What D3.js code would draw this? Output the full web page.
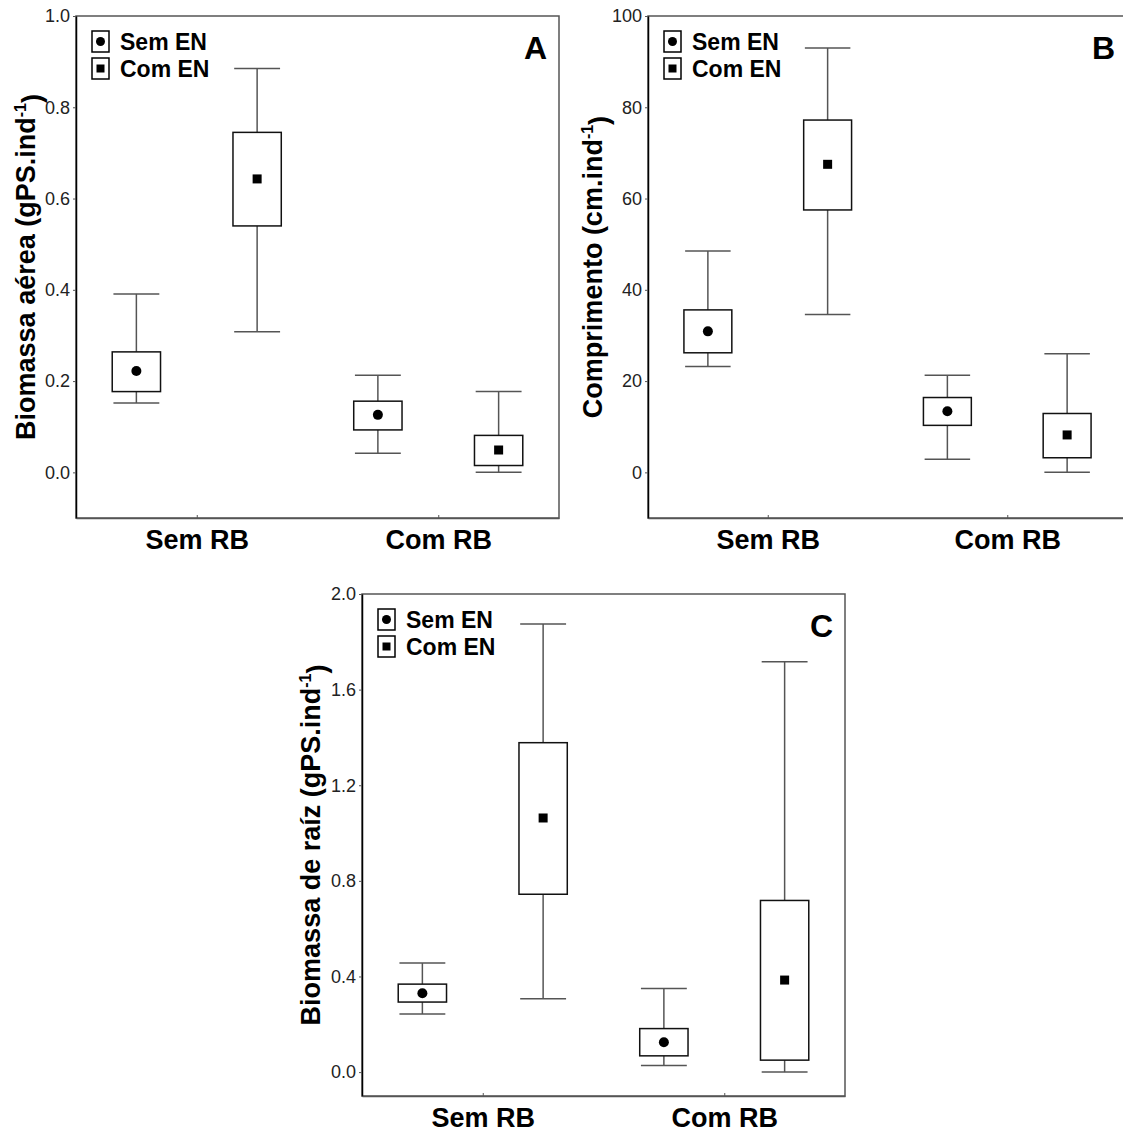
<!DOCTYPE html>
<html>
<head>
<meta charset="utf-8">
<script src="https://cdn.jsdelivr.net/npm/d3@7"></script>
<style>
  body { margin: 0; background: #fff; }
  text { font-family: 'Liberation Sans', Arial, sans-serif; }
</style>
</head>
<body>
<div id="chart"></div>
<script>
// Groups and series
const categories = ['Sem RB', 'Com RB'];
const series = ['Sem EN', 'Com EN'];

// Values, order: SemRB/SemEN, SemRB/ComEN, ComRB/SemEN, ComRB/ComEN
// Panel A - Biomassa aérea
const aWhiskerLow  = [0.152, 0.308, 0.042, 0.000];
const aBoxLow      = [0.177, 0.540, 0.093, 0.015];
const aMean        = [0.222, 0.643, 0.126, 0.049];
const aBoxHigh     = [0.264, 0.745, 0.156, 0.081];
const aWhiskerHigh = [0.391, 0.885, 0.213, 0.177];
const aTicks = [0.0, 0.2, 0.4, 0.6, 0.8, 1.0];

// Panel B - Comprimento
const bWhiskerLow  = [23.2, 34.6, 2.9, 0.0];
const bBoxLow      = [26.2, 57.5, 10.3, 3.2];
const bMean        = [30.9, 67.5, 13.4, 8.2];
const bBoxHigh     = [35.6, 77.2, 16.4, 12.9];
const bWhiskerHigh = [48.5, 93.0, 21.3, 26.0];
const bTicks = [0, 20, 40, 60, 80, 100];

// Panel C - Biomassa de raíz
const cWhiskerLow  = [0.243, 0.307, 0.028, 0.000];
const cBoxLow      = [0.293, 0.744, 0.068, 0.050];
const cMean        = [0.330, 1.063, 0.125, 0.385];
const cBoxHigh     = [0.368, 1.378, 0.182, 0.718];
const cWhiskerHigh = [0.456, 1.875, 0.350, 1.717];
const cTicks = [0.0, 0.4, 0.8, 1.2, 1.6, 2.0];

const svg = d3.select('#chart')
  .append('svg')
  .attr('width', 1123)
  .attr('height', 1133);

function drawPanel(p) {
  let g = svg.append('g').attr('transform', `translate(${p.left},${p.top})`);
  let w = p.width, h = p.height;

  let y = d3.scaleLinear().domain(p.domain).range([h, 0]);
  let x = d3.scalePoint().domain(categories).range([0, w]).padding(0.5);
  let xs = d3.scaleBand().domain(series).range([-w / 4, w / 4]);

  // frame
  g.append('rect')
    .attr('width', w).attr('height', h)
    .attr('fill', 'none')
    .attr('stroke', '#555')
    .attr('stroke-width', 1.5);

  // y axis
  let yAxis = g.append('g')
    .call(d3.axisLeft(y).tickValues(p.ticks).tickSize(3).tickSizeOuter(0).tickPadding(3).tickFormat(p.format));
  yAxis.select('.domain').attr('stroke', '#000').attr('stroke-width', 1.5);
  yAxis.selectAll('.tick line').attr('stroke', '#555');
  yAxis.selectAll('text').style('font-size', '18px').attr('fill', '#222');

  // x axis
  let xAxis = g.append('g')
    .attr('transform', `translate(0,${h})`)
    .call(d3.axisBottom(x).tickSize(-3).tickSizeOuter(0).tickPadding(12));
  xAxis.select('.domain').attr('stroke', '#555').attr('stroke-width', 1.5);
  xAxis.selectAll('.tick line').attr('stroke', '#555');
  xAxis.selectAll('text')
    .style('font-size', '27px')
    .style('font-weight', 'bold')
    .attr('fill', '#000');

  // rows
  let rows = [];
  categories.forEach(function(c, i) {
    series.forEach(function(s, j) {
      let k = i * 2 + j;
      rows.push({
        cat: c, ser: s, j: j,
        wl: p.wl[k], bl: p.bl[k], m: p.mean[k], bh: p.bh[k], wh: p.wh[k]
      });
    });
  });

  let boxW = xs.bandwidth() * 0.4;
  let capW = xs.bandwidth() * 0.19;
  let cx = d => x(d.cat) + xs(d.ser) + xs.bandwidth() / 2;

  let item = g.selectAll('.item').data(rows).enter().append('g');

  // whiskers
  item.append('line')
    .attr('x1', cx).attr('x2', cx)
    .attr('y1', d => y(d.bh)).attr('y2', d => y(d.wh))
    .attr('stroke', '#555').attr('stroke-width', 1.5);
  item.append('line')
    .attr('x1', cx).attr('x2', cx)
    .attr('y1', d => y(d.bl)).attr('y2', d => y(d.wl))
    .attr('stroke', '#555').attr('stroke-width', 1.5);
  item.append('line')
    .attr('x1', d => cx(d) - capW).attr('x2', d => cx(d) + capW)
    .attr('y1', d => y(d.wh)).attr('y2', d => y(d.wh))
    .attr('stroke', '#555').attr('stroke-width', 1.5);
  item.append('line')
    .attr('x1', d => cx(d) - capW).attr('x2', d => cx(d) + capW)
    .attr('y1', d => y(d.wl)).attr('y2', d => y(d.wl))
    .attr('stroke', '#555').attr('stroke-width', 1.5);

  // boxes
  item.append('rect')
    .attr('x', d => cx(d) - boxW / 2)
    .attr('y', d => y(d.bh))
    .attr('width', boxW)
    .attr('height', d => y(d.bl) - y(d.bh))
    .attr('fill', '#fff')
    .attr('stroke', '#111')
    .attr('stroke-width', 1.5);

  // mean markers
  item.filter(d => d.j === 0).append('circle')
    .attr('cx', cx).attr('cy', d => y(d.m)).attr('r', 5)
    .attr('fill', '#000');
  item.filter(d => d.j === 1).append('rect')
    .attr('x', d => cx(d) - 4.5).attr('y', d => y(d.m) - 4.5)
    .attr('width', 9).attr('height', 9)
    .attr('fill', '#000');

  // legend
  let leg = g.append('g').attr('transform', 'translate(16,15)');
  series.forEach(function(s, j) {
    let r = leg.append('g').attr('transform', `translate(0,${j * 27})`);
    r.append('rect')
      .attr('width', 17).attr('height', 21)
      .attr('fill', '#fff').attr('stroke', '#000').attr('stroke-width', 1.5);
    if (j === 0) {
      r.append('circle').attr('cx', 8.5).attr('cy', 10.5).attr('r', 4.5).attr('fill', '#000');
    } else {
      r.append('rect').attr('x', 4.5).attr('y', 6.5).attr('width', 8).attr('height', 8).attr('fill', '#000');
    }
    r.append('text')
      .attr('x', 28).attr('y', 19)
      .style('font-size', '23px').style('font-weight', 'bold')
      .text(s);
  });

  // panel letter
  g.append('text')
    .attr('x', w - 12).attr('y', 43)
    .attr('text-anchor', 'end')
    .style('font-size', '32px').style('font-weight', 'bold')
    .text(p.letter);

  // y title
  let t = g.append('text')
    .attr('transform', `translate(${-p.titleOffset},${h / 2}) rotate(-90)`)
    .attr('text-anchor', 'middle')
    .style('font-size', '27px').style('font-weight', 'bold');
  t.append('tspan').text(p.title);
  t.append('tspan').attr('dy', '-0.55em').style('font-size', '16px').text('-1');
  t.append('tspan').attr('dy', '0.55em').text(')');
}

drawPanel({
  left: 76, top: 16, width: 483, height: 502,
  domain: [-0.1, 1.0], ticks: aTicks, format: d3.format('.1f'),
  wl: aWhiskerLow, bl: aBoxLow, mean: aMean, bh: aBoxHigh, wh: aWhiskerHigh,
  letter: 'A', title: 'Biomassa aérea (gPS.ind', titleOffset: 41
});

drawPanel({
  left: 648, top: 16, width: 479, height: 502,
  domain: [-10, 100], ticks: bTicks, format: d3.format('d'),
  wl: bWhiskerLow, bl: bBoxLow, mean: bMean, bh: bBoxHigh, wh: bWhiskerHigh,
  letter: 'B', title: 'Comprimento (cm.ind', titleOffset: 46
});

drawPanel({
  left: 362, top: 594, width: 483, height: 502,
  domain: [-0.1, 2.0], ticks: cTicks, format: d3.format('.1f'),
  wl: cWhiskerLow, bl: cBoxLow, mean: cMean, bh: cBoxHigh, wh: cWhiskerHigh,
  letter: 'C', title: 'Biomassa de raíz (gPS.ind', titleOffset: 42
});
</script>
</body>
</html>
